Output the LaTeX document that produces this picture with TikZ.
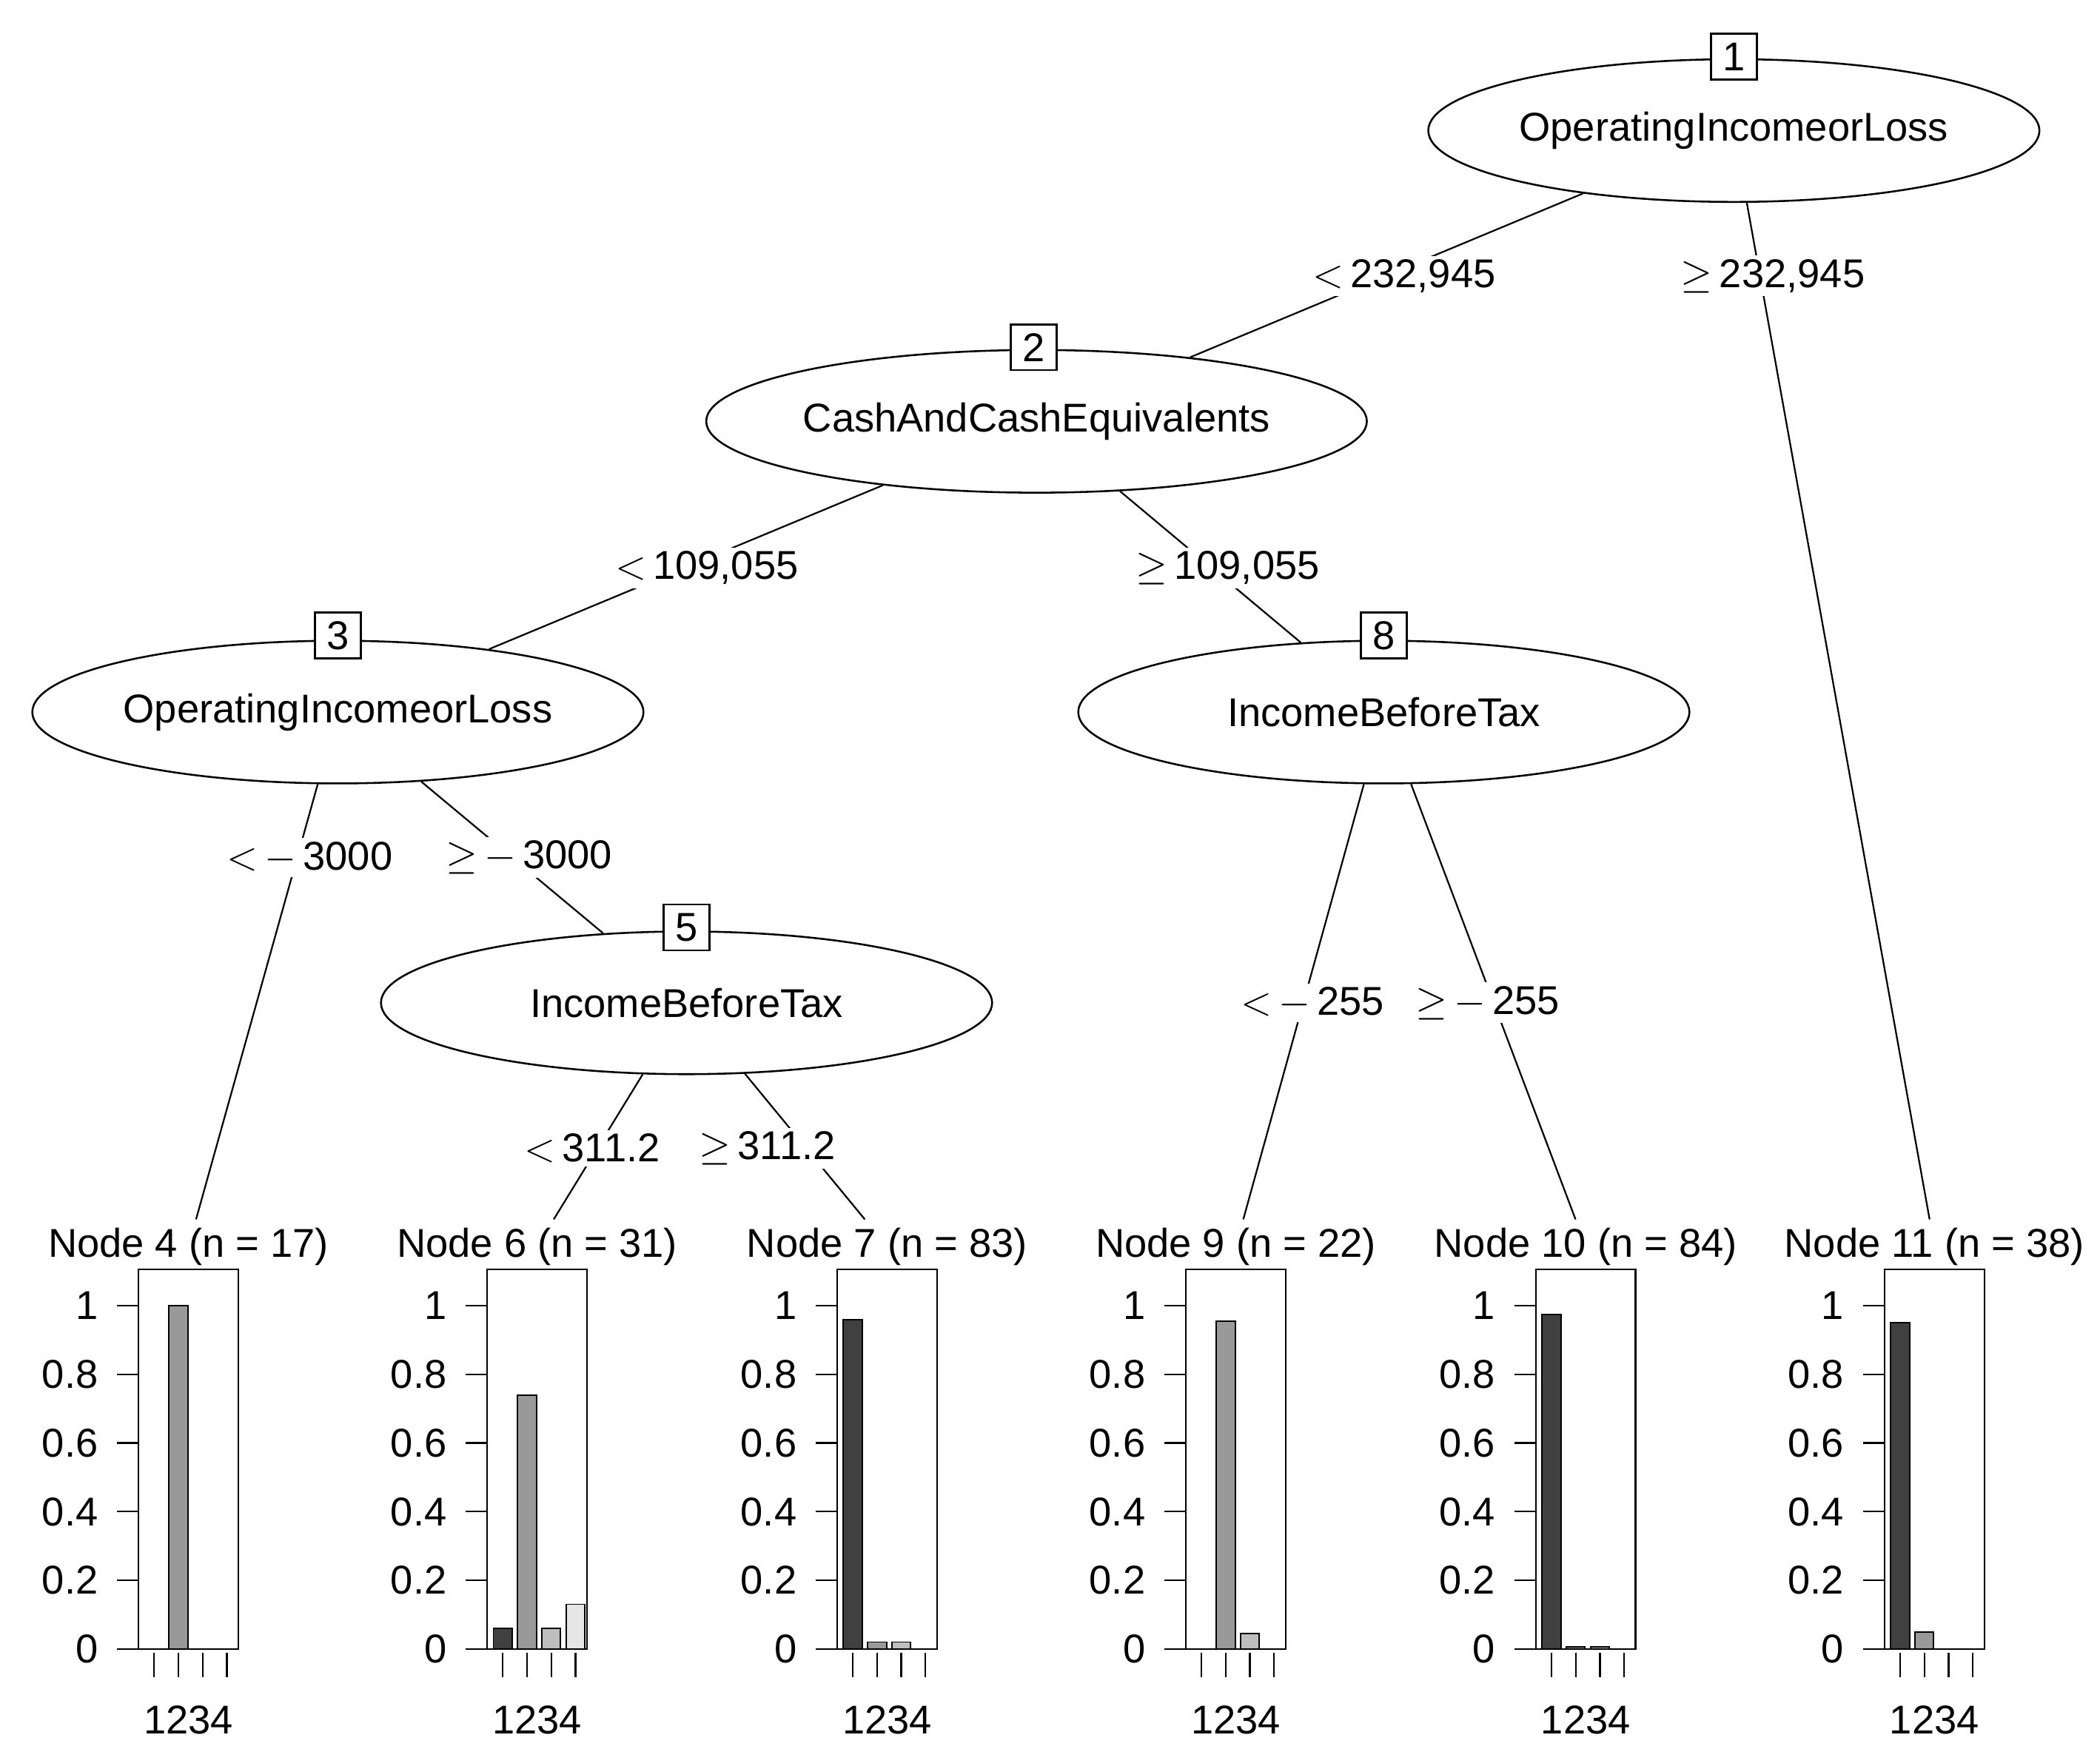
\documentclass[tikz,border=0pt]{standalone}
\usepackage{fontspec}
\setmainfont{Liberation Sans}
\usetikzlibrary{shapes.geometric}
\definecolor{cA}{HTML}{404040}
\definecolor{cB}{HTML}{999999}
\definecolor{cC}{HTML}{BEBEBE}
\definecolor{cD}{HTML}{E6E6E6}
\tikzset{
  every node/.style={font=\fontsize{17}{20}\selectfont},
  inner/.style={ellipse,draw,line width=0.8pt,minimum width=454*0.02cm,minimum height=106*0.02cm,inner sep=0pt},
  idbox/.style={draw,fill=white,line width=0.8pt,minimum size=34*0.02cm,inner sep=0pt},
  lab/.style={fill=white,inner sep=1.5pt},
  edge/.style={line width=0.7pt},
  bar/.style={draw,line width=0.6pt},
}
\newcommand\mypanel[7]{% name, left x, title, v1..v4
  \node (#1) at (#2+37,926) {#3};
  \draw[line width=0.7pt] (#2,943) rectangle (#2+74,1225);
  \foreach \v/\c/\k in {#4/cA/0,#5/cB/1,#6/cC/2,#7/cD/3}{
    \pgfmathsetmacro\bx{#2+4.5+18*\k}
    \pgfmathsetmacro\by{1225-255*\v}
    \draw[bar,fill=\c] (\bx,1225) rectangle (\bx+14,\by);
    \draw[line width=0.7pt] (\bx+7,1228) -- (\bx+7,1246);
  }
  \foreach \t/\l in {0/0,0.2/0.2,0.4/0.4,0.6/0.6,0.8/0.8,1/1}{
    \pgfmathsetmacro\ty{1225-255*\t}
    \draw[line width=0.7pt] (#2-16,\ty) -- (#2,\ty);
    \node[anchor=east] at (#2-24,\ty) {\l};
  }
  \node at (#2+37,1278) {1234};
}
\begin{document}
\begin{tikzpicture}[x=0.02cm,y=-0.02cm]
\useasboundingbox (0,0) rectangle (1560,1299);
\node[inner] (e1) at (1288,97) {OperatingIncomeorLoss};
\node[inner] (e2) at (770,313) {CashAndCashEquivalents};
\node[inner] (e3) at (251,529) {OperatingIncomeorLoss};
\node[inner] (e8) at (1028,529) {IncomeBeforeTax};
\node[inner] (e5) at (510,745) {IncomeBeforeTax};

\mypanel{t4}{103}{Node 4 (n = 17)}{0}{1}{0}{0}
\mypanel{t6}{362}{Node 6 (n = 31)}{0.06}{0.74}{0.06}{0.13}
\mypanel{t7}{622}{Node 7 (n = 83)}{0.96}{0.02}{0.02}{0}
\mypanel{t9}{881}{Node 9 (n = 22)}{0}{0.955}{0.045}{0}
\mypanel{t10}{1141}{Node 10 (n = 84)}{0.975}{0.006}{0.006}{0}
\mypanel{t11}{1400}{Node 11 (n = 38)}{0.95}{0.05}{0}{0}

\draw[edge] (e1) -- (e2);
\draw[edge] (e1) -- (t11);
\draw[edge] (e2) -- (e3);
\draw[edge] (e2) -- (e8);
\draw[edge] (e3) -- (t4);
\draw[edge] (e3) -- (e5);
\draw[edge] (e5) -- (t6);
\draw[edge] (e5) -- (t7);
\draw[edge] (e8) -- (t9);
\draw[edge] (e8) -- (t10);

\node[idbox] (b1) at (1288,42) {1};
\node[idbox] (b2) at (768,258) {2};
\node[idbox] (b3) at (251,472) {3};
\node[idbox] (b8) at (1028,472) {8};
\node[idbox] (b5) at (510,689) {5};

\node[lab] (l12) at (1043,205) {$<$\,232,945};
\node[lab] (l111) at (1317,205) {$\geq$\,232,945};
\node[lab] (l23) at (525,422) {$<$\,109,055};
\node[lab] (l28) at (912,422) {$\geq$\,109,055};
\node[lab] (l34) at (230,637) {$<$\,$-$\,3000};
\node[lab] (l35) at (393,637) {$\geq$\,$-$\,3000};
\node[lab] (l56) at (440,853) {$<$\,311.2};
\node[lab] (l57) at (570,853) {$\geq$\,311.2};
\node[lab] (l89) at (975,745) {$<$\,$-$\,255};
\node[lab] (l810) at (1105,745) {$\geq$\,$-$\,255};
\end{tikzpicture}
\end{document}
